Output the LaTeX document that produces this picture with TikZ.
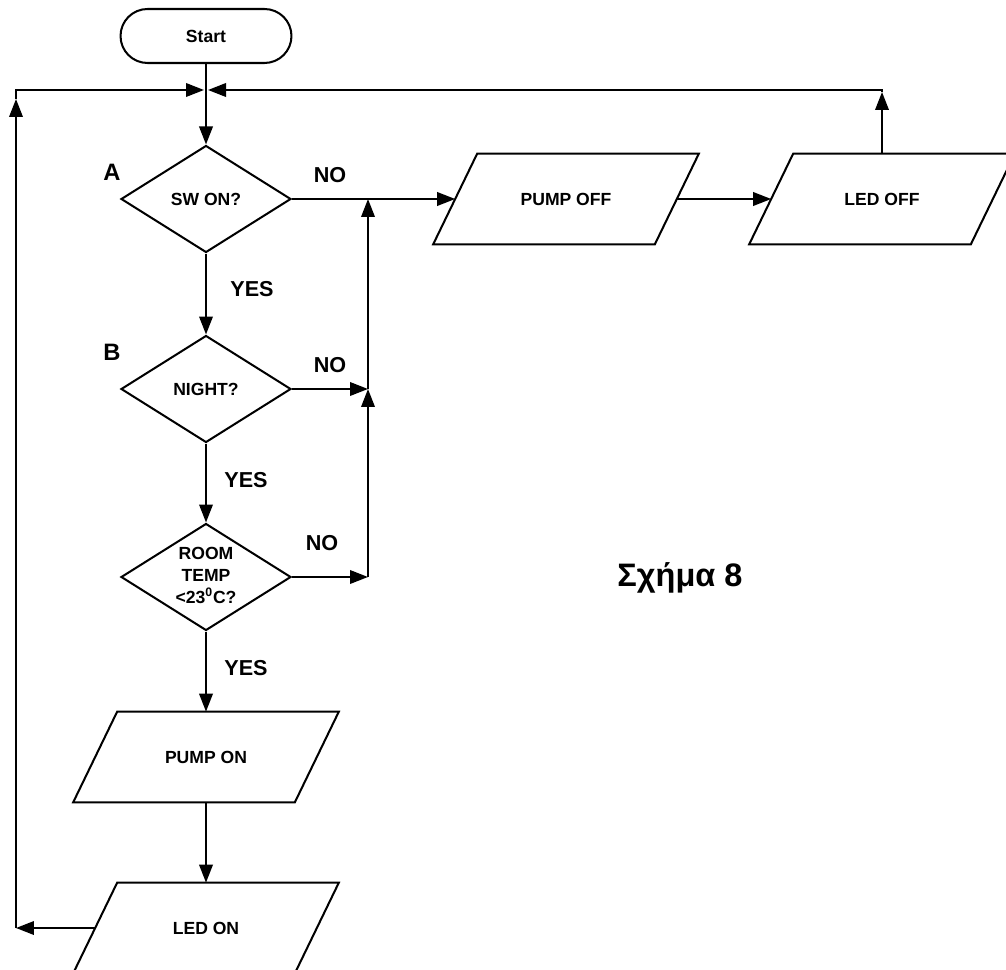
\documentclass[tikz,border=0pt]{standalone}
\usepackage{fontspec}
\setmainfont{Liberation Sans}
\usetikzlibrary{shapes.geometric,arrows.meta,calc}
\newcommand\drawpara[1]{\draw[shp] ($(#1.south west)+(-22,0)$) -- ($(#1.south east)+(-22,0)$) -- ($(#1.north east)+(22,0)$) -- ($(#1.north west)+(22,0)$) -- cycle;}
\begin{document}
\begin{tikzpicture}[x=0.02cm,y=-0.02cm,
 shp/.style={draw,line width=1.15pt,line join=miter},
 dia/.style={shp,diamond,minimum width=3.4cm,minimum height=2.14cm,inner sep=0pt},
 io/.style={minimum width=4.42cm,minimum height=1.8cm,inner sep=0pt},
 term/.style={shp,rectangle,rounded corners=0.54cm,minimum width=3.42cm,minimum height=1.08cm},
 intext/.style={font=\fontsize{10}{12.5}\selectfont\bfseries,align=center},
 lbl/.style={font=\fontsize{12.3}{14}\selectfont\bfseries},
 big/.style={font=\fontsize{13.5}{16}\selectfont\bfseries},
 arr/.style={line width=1.15pt,-{Triangle[length=0.36cm,width=0.27cm]}}]

\useasboundingbox (0,0) rectangle (1006,969);

\node[term,intext] (start) at (206,36) {Start};
\coordinate (J) at (206,90);
\node[dia] (A) at (206,199) {};
\node[dia] (B) at (206,389) {};
\node[dia] (C) at (206,577) {};
\node[io] (poff) at (566,199) {};
\node[io] (loff) at (882,199) {};
\node[io] (pon) at (206,757) {};
\node[io] (lon) at (206,928) {};
\drawpara{poff}
\drawpara{loff}
\drawpara{pon}
\drawpara{lon}

\node[intext] (tA) at (A) {SW ON?};
\node[intext] (tB) at (B) {NIGHT?};
\node[intext] (tC) at (206,575) {ROOM\\TEMP\\<23\textsuperscript{0}C?};
\node[intext] (tpoff) at (poff) {PUMP OFF};
\node[intext] (tloff) at (loff) {LED OFF};
\node[intext] (tpon) at (pon) {PUMP ON};
\node[intext] (tlon) at (lon) {LED ON};

\node[big] (la) at (112,172) {A};
\node[big] (lb) at (112,352) {B};
\node[lbl] (noA) at (330,175) {NO};
\node[lbl] (noB) at (330,365) {NO};
\node[lbl] (noC) at (322,543) {NO};
\node[lbl] (yA) at (252,289) {YES};
\node[lbl] (yB) at (246,480) {YES};
\node[lbl] (yC) at (246,668) {YES};
\node[font=\fontsize{18.5}{22}\selectfont\bfseries] (fig) at (680,578) {Σχήμα 8};

\coordinate (V1) at (368,199);
\coordinate (V2) at (368,389);
\coordinate (V3) at (368,577);
\coordinate (R1) at (882,92);
\coordinate (R0) at (882,90);
\coordinate (Jr) at (208,90);
\coordinate (Jl) at (204,90);
\coordinate (L0) at (16,928);
\coordinate (L1) at (16,99);
\coordinate (L2) at (16,90);

\draw[arr] (start) -- (A);
\draw[arr] (A) -- (B);
\draw[arr] (B) -- (C);
\draw[arr] (C) -- (pon);
\draw[arr] (pon) -- (lon);
\draw[arr] (A.east) -- (poff.west);
\draw[arr] (poff.east) -- (loff.west);
\draw[arr] (B.east) -- (V2);
\draw[arr] (C.east) -- (V3);
\draw[arr] (V3) -- (V2);
\draw[arr] (V2) -- (V1);
\draw[arr] (loff.north) -- (R1);
\draw[arr] (R1) -- (R0) -- (Jr);
\draw[arr] (lon.west) -- (L0);
\draw[arr] (L0) -- (L1);
\draw[arr] (L1) -- (L2) -- (Jl);
\end{tikzpicture}
\end{document}
